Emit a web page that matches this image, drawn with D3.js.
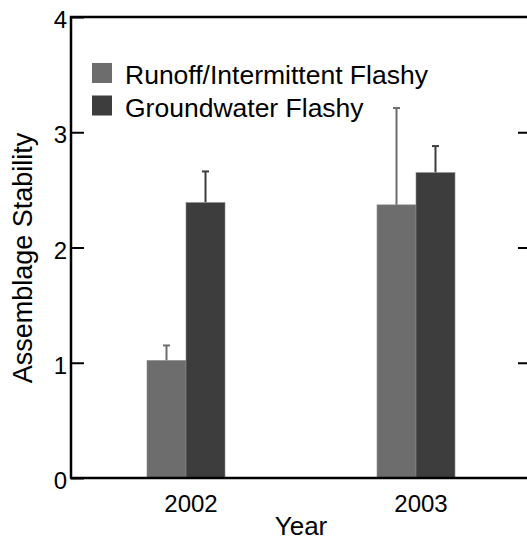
<!DOCTYPE html>
<html>
<head>
<meta charset="utf-8">
<script src="https://cdn.jsdelivr.net/npm/d3@7"></script>
<style>
  body { margin: 0; background: #fff; }
  svg { display: block; font-family: 'Liberation Sans', Arial, sans-serif; }
</style>
</head>
<body>
<svg width="527" height="541"></svg>
<script>
'use strict'

const years = ['2002', '2003']
const series = ['Runoff/Intermittent Flashy', 'Groundwater Flashy']
const runoff = [1.02, 2.37]
const runoffErr = [0.13, 0.84]
const groundwater = [2.39, 2.65]
const groundwaterErr = [0.27, 0.23]
const yTicks = [0, 1, 2, 3, 4]
const colors = ['#6d6d6d', '#3d3d3d']

const margin = { left: 71, right: -4, top: 17, bottom: 63 }
const width = 527
const height = 541

const svg = d3.select('svg')

const x0 = d3.scaleBand()
  .domain(years)
  .range([margin.left, width - margin.right])

const x1 = d3.scaleBand()
  .domain(series)
  .range([-39, 39])

const y = d3.scaleLinear()
  .domain([0, 4])
  .range([height - margin.bottom, margin.top])

const rows = years.map((yr, i) => ({
  year: yr,
  bars: [
    { name: series[0], value: runoff[i], err: runoffErr[i], color: colors[0] },
    { name: series[1], value: groundwater[i], err: groundwaterErr[i], color: colors[1] }
  ]
}))

const groups = svg.selectAll('g.year')
  .data(rows)
  .enter().append('g')
  .attr('class', 'year')
  .attr('transform', d => `translate(${x0(d.year) + x0.bandwidth() / 2},0)`)

const bar = groups.selectAll('g.bar')
  .data(d => d.bars)
  .enter().append('g')
  .attr('class', 'bar')

// error bars first so the bar covers the lower part
bar.append('line')
  .attr('x1', d => x1(d.name) + x1.bandwidth() / 2)
  .attr('x2', d => x1(d.name) + x1.bandwidth() / 2)
  .attr('y1', d => y(d.value))
  .attr('y2', d => y(d.value + d.err))
  .attr('stroke', d => d.color)
  .attr('stroke-width', 2)

bar.append('line')
  .attr('x1', d => x1(d.name) + x1.bandwidth() / 2 - 3.5)
  .attr('x2', d => x1(d.name) + x1.bandwidth() / 2 + 3.5)
  .attr('y1', d => y(d.value + d.err))
  .attr('y2', d => y(d.value + d.err))
  .attr('stroke', d => d.color)
  .attr('stroke-width', 2)

bar.append('rect')
  .attr('x', d => x1(d.name))
  .attr('width', x1.bandwidth())
  .attr('y', d => y(d.value))
  .attr('height', d => y(0) - y(d.value))
  .attr('fill', d => d.color)
  .attr('stroke', '#8a8a8a')
  .attr('stroke-width', 0.6)

// frame
const left = margin.left
const right = width - margin.right
svg.append('g')
  .attr('transform', `translate(${left},0)`)
  .call(d3.axisRight(y).tickValues(yTicks).tickSize(13).tickFormat(''))
  .call(g => g.select('.domain').remove())
  .selectAll('line').attr('stroke', '#000').attr('stroke-width', 2)

svg.append('g')
  .attr('transform', `translate(${right},0)`)
  .call(d3.axisLeft(y).tickValues(yTicks.slice(1, 4)).tickSize(13).tickFormat(''))
  .call(g => g.select('.domain').remove())
  .selectAll('line').attr('stroke', '#000').attr('stroke-width', 2)

svg.append('g')
  .attr('font-size', 24)
  .selectAll('text')
  .data(yTicks)
  .enter().append('text')
  .attr('x', left - 4)
  .attr('y', d => y(d) + 11)
  .attr('text-anchor', 'end')
  .text(d => d)

svg.append('path')
  .attr('d', `M${left},${y(0)}V${y(4)}H${right + 2}M${left - 1},${y(0)}H${right + 2}`)
  .attr('fill', 'none')
  .attr('stroke', '#000')
  .attr('stroke-width', 2.5)

svg.append('g')
  .attr('font-size', 24)
  .attr('text-anchor', 'middle')
  .selectAll('text')
  .data(years)
  .enter().append('text')
  .attr('x', d => x0(d) + x0.bandwidth() / 2 + 5)
  .attr('y', 512)
  .text(d => d)

svg.append('text')
  .attr('x', (left + right) / 2)
  .attr('y', 535)
  .attr('text-anchor', 'middle')
  .attr('font-size', 26)
  .text('Year')

svg.append('text')
  .attr('transform', 'translate(32,258) rotate(-90)')
  .attr('text-anchor', 'middle')
  .attr('font-size', 27)
  .text('Assemblage Stability')

// legend
const legend = svg.append('g')
  .attr('transform', 'translate(92,63)')
  .selectAll('g')
  .data(series)
  .enter().append('g')
  .attr('transform', (d, i) => `translate(0,${i * 32.5})`)

legend.append('rect')
  .attr('width', 20)
  .attr('height', 20)
  .attr('fill', (d, i) => colors[i])

legend.append('text')
  .attr('x', 33)
  .attr('y', 21)
  .attr('font-size', 26.5)
  .text(d => d)
</script>
</body>
</html>
